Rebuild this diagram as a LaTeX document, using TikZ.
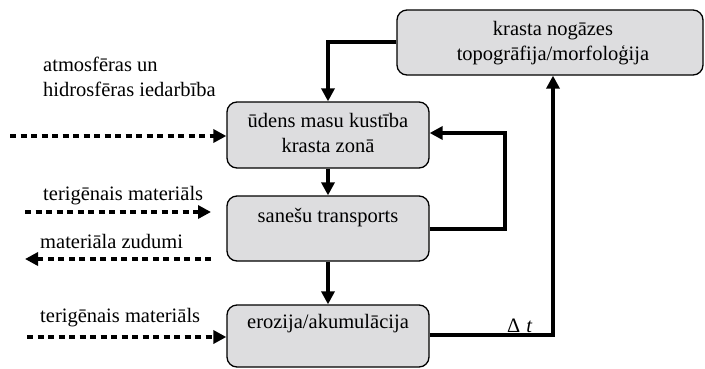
\documentclass[tikz,border=0pt]{standalone}
\usepackage{fontspec}
\setmainfont{Liberation Serif}
\usetikzlibrary{arrows.meta}
\definecolor{boxgray}{RGB}{221,221,223}
\begin{document}
\begin{tikzpicture}[x=1pt,y=-1pt,
  box/.style={draw, line width=1.3pt, rounded corners=10pt, fill=boxgray, inner sep=0pt},
  lbl/.style={font=\fontsize{20.5}{25}\selectfont, inner sep=0pt, align=center},
  flow/.style={line width=4pt, -{Triangle[length=13pt,width=13pt]}},
  dotarrow/.style={line width=4pt, dash pattern=on 6pt off 4.5pt, -{Triangle[length=13pt,width=13pt]}}]
\useasboundingbox (0,0) rectangle (705,368);

% boxes
\node[box, minimum width=306pt, minimum height=65pt] (b1) at (550,42.5) {};
\node[box, minimum width=202pt, minimum height=66pt] (b2) at (328,135) {};
\node[box, minimum width=202pt, minimum height=65pt] (b3) at (328,228.5) {};
\node[box, minimum width=202pt, minimum height=62pt] (b4) at (328,336) {};

% box texts (base = baseline of last line)
\node[lbl, anchor=base] (t1) at (553,60) {krasta nogāzes\\topogrāfija/morfoloģija};
\node[lbl, anchor=base] (t2) at (328,152) {ūdens masu kustība\\krasta zonā};
\node[lbl, anchor=base] (t3) at (328,222) {sanešu transports};
\node[lbl, anchor=base] (t4) at (328,328) {erozija/akumulācija};

% side labels
\node[lbl, anchor=base west, align=left] (l1) at (43,96) {atmosfēras un\\hidrosfēras iedarbība};
\node[lbl, anchor=base west] (l2) at (43,200) {terigēnais materiāls};
\node[lbl, anchor=base west] (l3) at (40,248) {materiāla zudumi};
\node[lbl, anchor=base west] (l4) at (40,322) {terigēnais materiāls};
\node[lbl, anchor=base west] (dt) at (507,332) {Δ\hspace{6pt}\textit{t}};

% free ends of dotted arrows
\coordinate (s1) at (10,136);
\coordinate (s2) at (25,212);
\coordinate (e2) at (211,212);
\coordinate (s3) at (211,259);
\coordinate (e3) at (25,259);
\coordinate (s4) at (27,337);

% main flow
\coordinate (c1) at (328,42);
\draw[flow] (b1.west |- c1) -| (b2.north);
\draw[flow] (b2.south) -- (b3.north);
\draw[flow] (b3.south) -- (b4.north);
\coordinate (r1) at (505,229);
\coordinate (r2) at (505,133);
\draw[flow] (b3.east |- r1) -- (r1) -- (r2) -- (b2.east |- r2);
\coordinate (r3) at (553,335);
\draw[flow] (b4.east |- r3) -- (r3) -- (b1.south -| r3);

% dotted inputs/outputs
\draw[dotarrow] (s1) -- (b2.west |- s1);
\draw[dotarrow] (s2) -- (e2);
\draw[dotarrow] (s3) -- (e3);
\draw[dotarrow] (s4) -- (b4.west |- s4);
\end{tikzpicture}
\end{document}
